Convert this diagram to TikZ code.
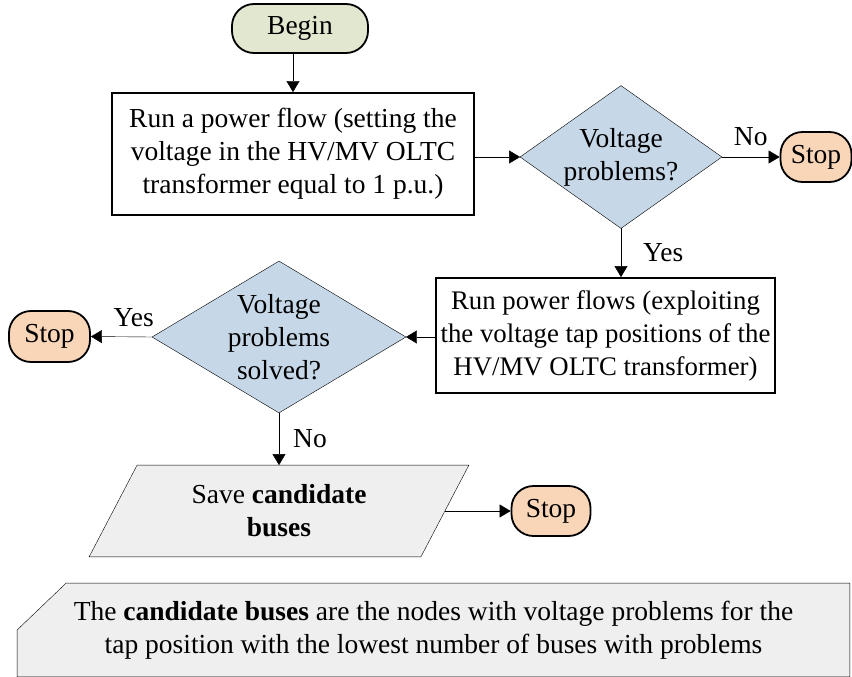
\documentclass[tikz,border=0pt]{standalone}
\usepackage{fontspec}
\setmainfont{Liberation Serif}
\usetikzlibrary{arrows.meta,backgrounds}
\definecolor{beginfill}{HTML}{E2E7D0}
\definecolor{stopfill}{HTML}{F9D6B8}
\definecolor{diafill}{HTML}{C6D7E8}
\definecolor{grayfill}{HTML}{EFEFEF}
\begin{document}
\begin{tikzpicture}[x=1pt,y=-1pt,
  font=\fontsize{27.5}{33}\selectfont,
  line width=1.8pt,
  arr/.style={-{Triangle[length=11pt,width=13pt]}},
  proc/.style={draw, fill=white, align=center, inner sep=0pt},
  term/.style={draw, rounded corners=22pt, inner sep=0pt, minimum width=79pt, minimum height=50pt},
  stopbox/.style={term, fill=stopfill},
  dec/.style={align=center, inner sep=0pt},
  lbl/.style={inner sep=2pt}]
\useasboundingbox (0,0) rectangle (852,677);

% nodes
\node[term, fill=beginfill, minimum width=136pt, minimum height=49pt] (begin) at (300,28.5) {Begin};
\node[proc, minimum width=362pt, minimum height=122pt] (box1) at (293,154)
  {Run a power flow (setting the\\voltage in the HV/MV OLTC\\transformer equal to 1 p.u.)};
\node[dec, minimum width=200pt, minimum height=141pt] (d1) at (621,157) {Voltage\\problems?};
\node[stopbox, minimum width=71pt] (stop1) at (816,157) {Stop};
\node[proc, minimum width=339pt, minimum height=115pt, font=\fontsize{26.8}{33}\selectfont] (box2) at (605.5,335.5)
  {Run power flows (exploiting\\the voltage tap positions of the\\HV/MV OLTC transformer)};
\node[dec, minimum width=252pt, minimum height=150pt] (d2) at (279,337) {Voltage\\problems\\solved?};
\node[stopbox, minimum width=81pt, minimum height=51pt] (stop2) at (49.5,336.5) {Stop};
\node[dec, minimum width=330pt, minimum height=90pt] (para) at (279,511)
  {Save \textbf{candidate}\\\textbf{buses}};
\node[stopbox] (stop3) at (551,511) {Stop};
\node[dec, minimum width=831pt, minimum height=92pt] (note) at (433.5,630)
  {The \textbf{candidate buses} are the nodes with voltage problems for the\\tap position with the lowest number of buses with problems};

% shapes behind text
\begin{pgfonlayer}{background}
  \filldraw[fill=diafill] (d1.north) -- (d1.east) -- (d1.south) -- (d1.west) -- cycle;
  \filldraw[fill=diafill] (d2.north) -- (d2.east) -- (d2.south) -- (d2.west) -- cycle;
  \filldraw[fill=grayfill] ([xshift=24pt]para.north west) -- ([xshift=24pt]para.north east)
    -- ([xshift=-24pt]para.south east) -- ([xshift=-24pt]para.south west) -- cycle;
  \filldraw[fill=grayfill] (note.south west) -- (note.west) -- ([xshift=49pt]note.north west)
    -- (note.north east) -- (note.south east) -- cycle;
\end{pgfonlayer}

% connectors
\draw[arr] (begin.south -| box1.north) -- (box1.north);
\draw[arr] (box1.east |- d1.west) -- (d1.west);
\draw[arr] (d1.east) -- node[lbl, above=9pt] {No} (stop1.west);
\draw[arr] (d1.south) -- node[lbl, right=20pt] {Yes} (d1.south |- box2.north);
\draw[arr] (box2.west |- d2.east) -- (d2.east);
\draw[arr] (d2.west) -- node[lbl, above=8pt, pos=0.3] {Yes} (stop2.east);
\draw[arr] (d2.south) -- node[lbl, right=12pt] {No} (para.north);
\draw[arr] (para.east) -- (stop3.west);
\end{tikzpicture}
\end{document}
